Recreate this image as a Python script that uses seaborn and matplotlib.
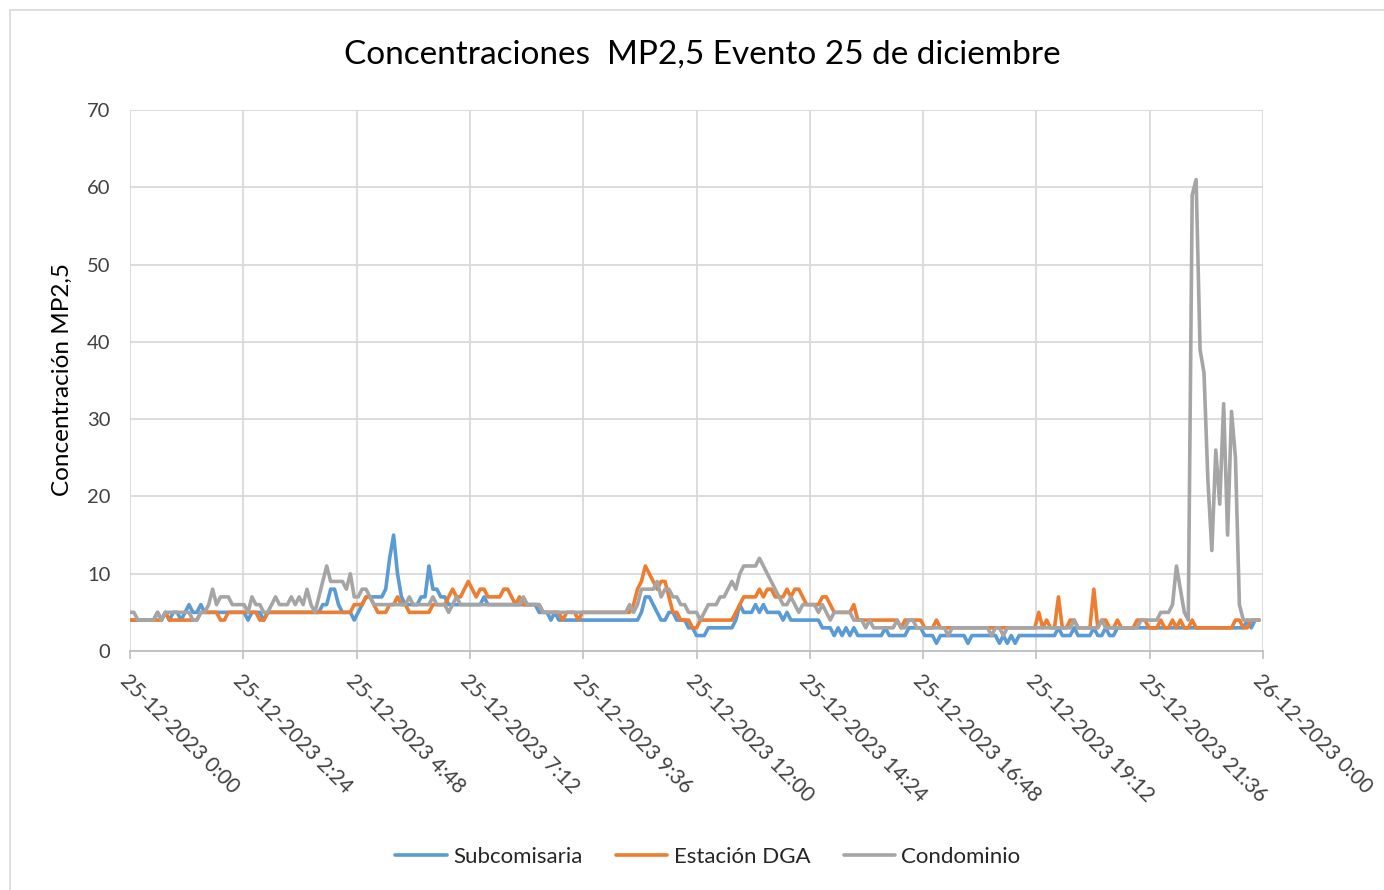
import numpy as np
import pandas as pd
import matplotlib
matplotlib.use('Agg')
import matplotlib.pyplot as plt
import seaborn as sns

# Concentraciones MP2,5 cada 5 minutos (una fila = una hora, 12 valores)
subcomisaria = [
    4, 4, 4, 4, 4, 4, 4, 5, 4, 5, 4, 5,
    5, 4, 5, 6, 5, 5, 6, 5, 5, 5, 5, 5,
    5, 5, 5, 5, 5, 5, 4, 5, 5, 5, 4, 5,
    5, 5, 5, 5, 5, 5, 5, 5, 5, 5, 5, 5,
    5, 6, 6, 8, 8, 6, 5, 5, 5, 4, 5, 6,
    7, 7, 7, 7, 7, 8, 12, 15, 10, 7, 6, 6,
    6, 6, 7, 7, 11, 8, 8, 7, 7, 6, 6, 6,
    6, 6, 6, 6, 6, 6, 7, 6, 6, 6, 6, 6,
    6, 6, 6, 6, 6, 6, 6, 6, 5, 5, 5, 4,
    5, 4, 4, 4, 4, 4, 4, 4, 4, 4, 4, 4,
    4, 4, 4, 4, 4, 4, 4, 4, 4, 4, 5, 7,
    7, 6, 5, 4, 4, 5, 5, 4, 4, 4, 3, 3,
    2, 2, 2, 3, 3, 3, 3, 3, 3, 3, 4, 6,
    5, 5, 5, 6, 5, 6, 5, 5, 5, 5, 4, 5,
    4, 4, 4, 4, 4, 4, 4, 4, 3, 3, 3, 2,
    3, 2, 3, 2, 3, 2, 2, 2, 2, 2, 2, 2,
    3, 2, 2, 2, 2, 2, 3, 3, 3, 3, 2, 2,
    2, 1, 2, 2, 2, 2, 2, 2, 2, 1, 2, 2,
    2, 2, 2, 2, 2, 1, 2, 1, 2, 1, 2, 2,
    2, 2, 2, 2, 2, 2, 2, 2, 3, 2, 2, 2,
    3, 2, 2, 2, 2, 3, 2, 2, 3, 2, 2, 3,
    3, 3, 3, 3, 3, 3, 3, 3, 3, 3, 3, 3,
    3, 3, 3, 3, 3, 3, 3, 3, 3, 3, 3, 3,
    3, 3, 3, 3, 3, 3, 3, 3, 4, 3, 4, 4,
]

estacion_dga = [
    4, 4, 4, 4, 4, 4, 4, 4, 4, 5, 4, 4,
    4, 4, 4, 4, 4, 4, 5, 5, 5, 5, 5, 4,
    4, 5, 5, 5, 5, 5, 5, 5, 5, 4, 4, 5,
    5, 5, 5, 5, 5, 5, 5, 5, 5, 5, 5, 5,
    5, 5, 5, 5, 5, 5, 5, 5, 5, 6, 6, 6,
    7, 7, 6, 5, 5, 5, 6, 6, 7, 6, 6, 5,
    5, 5, 5, 5, 5, 6, 6, 6, 6, 7, 8, 7,
    7, 8, 9, 8, 7, 8, 8, 7, 7, 7, 7, 8,
    8, 7, 6, 7, 6, 6, 6, 6, 6, 5, 5, 5,
    5, 5, 4, 5, 5, 5, 4, 5, 5, 5, 5, 5,
    5, 5, 5, 5, 5, 5, 5, 5, 6, 8, 9, 11,
    10, 9, 8, 9, 9, 7, 5, 5, 4, 4, 4, 3,
    3, 4, 4, 4, 4, 4, 4, 4, 4, 4, 5, 6,
    7, 7, 7, 7, 8, 7, 8, 8, 7, 7, 7, 8,
    7, 8, 8, 7, 6, 6, 6, 6, 7, 7, 6, 5,
    5, 5, 5, 5, 6, 4, 4, 4, 4, 4, 4, 4,
    4, 4, 4, 4, 3, 4, 4, 4, 4, 4, 3, 3,
    3, 4, 3, 3, 3, 3, 3, 3, 3, 3, 3, 3,
    3, 3, 3, 3, 3, 3, 3, 3, 3, 3, 3, 3,
    3, 3, 3, 5, 3, 4, 3, 3, 7, 3, 3, 4,
    4, 3, 3, 3, 3, 8, 3, 4, 4, 3, 3, 4,
    3, 3, 3, 3, 4, 4, 4, 3, 3, 3, 4, 3,
    3, 4, 3, 4, 3, 3, 4, 3, 3, 3, 3, 3,
    3, 3, 3, 3, 3, 4, 4, 3, 3, 4, 4, 4,
]

condominio = [
    5, 5, 4, 4, 4, 4, 4, 5, 4, 5, 5, 5,
    5, 5, 5, 5, 4, 4, 5, 5, 6, 8, 6, 7,
    7, 7, 6, 6, 6, 6, 5, 7, 6, 6, 5, 5,
    6, 7, 6, 6, 6, 7, 6, 7, 6, 8, 6, 5,
    7, 9, 11, 9, 9, 9, 9, 8, 10, 7, 7, 8,
    8, 7, 6, 6, 6, 6, 6, 6, 6, 6, 6, 7,
    6, 6, 6, 6, 6, 7, 6, 6, 6, 5, 6, 7,
    6, 6, 6, 6, 6, 6, 6, 6, 6, 6, 6, 6,
    6, 6, 6, 6, 7, 6, 6, 6, 6, 5, 5, 5,
    5, 5, 5, 5, 5, 5, 5, 5, 5, 5, 5, 5,
    5, 5, 5, 5, 5, 5, 5, 6, 5, 6, 8, 8,
    8, 8, 9, 7, 8, 8, 7, 7, 6, 6, 5, 5,
    5, 4, 5, 6, 6, 6, 7, 7, 8, 9, 8, 10,
    11, 11, 11, 11, 12, 11, 10, 9, 8, 7, 6, 6,
    7, 6, 5, 6, 6, 6, 6, 5, 6, 5, 4, 5,
    5, 5, 5, 5, 4, 4, 4, 3, 4, 3, 3, 3,
    3, 3, 3, 4, 3, 3, 4, 4, 3, 3, 3, 3,
    3, 3, 3, 3, 2, 3, 3, 3, 3, 3, 3, 3,
    3, 3, 3, 2, 3, 3, 2, 3, 3, 3, 3, 3,
    3, 3, 3, 3, 3, 3, 3, 3, 3, 3, 3, 3,
    4, 3, 3, 3, 3, 3, 3, 4, 3, 3, 3, 3,
    3, 3, 3, 3, 3, 4, 4, 4, 4, 4, 5, 5,
    5, 6, 11, 8, 5, 4, 59, 61, 39, 36, 22, 13,
    26, 19, 32, 15, 31, 25, 6, 4, 4, 4, 4, 4,
]

series = ['Subcomisaria', 'Estación DGA', 'Condominio']
colores = ['#5B9BD5', '#ED7D31', '#A5A5A5']
etiquetas_x = ['25-12-2023 0:00', '25-12-2023 2:24', '25-12-2023 4:48',
               '25-12-2023 7:12', '25-12-2023 9:36', '25-12-2023 12:00',
               '25-12-2023 14:24', '25-12-2023 16:48', '25-12-2023 19:12',
               '25-12-2023 21:36', '26-12-2023 0:00']

# Tabla larga para seaborn
tiempo = pd.date_range('2023-12-25 00:00', periods=len(condominio), freq='5min')
df = pd.DataFrame({
    'Fecha': np.tile(tiempo, 3),
    'Concentración': subcomisaria + estacion_dga + condominio,
    'Estación': np.repeat(series, len(tiempo)),
})

sns.set_style('white')
plt.rcParams['font.family'] = ['Lato', 'DejaVu Sans']

fig = plt.figure(figsize=(13.84, 8.90), dpi=100)
ax = fig.add_axes([130 / 1384, 1 - 651 / 890, 1133 / 1384, 541 / 890])

sns.lineplot(data=df, x='Fecha', y='Concentración', hue='Estación',
             hue_order=series, palette=colores, linewidth=2.6, ax=ax)

inicio = pd.Timestamp('2023-12-25 00:00')
fin = pd.Timestamp('2023-12-26 00:00')
ax.set_xlim(inicio, fin)
ax.set_ylim(0, 70)
ax.set_yticks(range(0, 71, 10))
ax.set_xticks(pd.date_range(inicio, fin, periods=len(etiquetas_x)))
ax.set_xticklabels(etiquetas_x, rotation=-45, ha='left', va='top',
                   rotation_mode='anchor', fontsize=15, color='#404040')
ax.tick_params(axis='y', labelsize=14.5, labelcolor='#404040', length=0, pad=14)
ax.tick_params(axis='x', length=6, width=1.2, color='#BFBFBF', pad=8,
               direction='out', bottom=True)
ax.grid(True, color='#D9D9D9', linewidth=1.3)
for lado in ['top', 'right', 'left']:
    ax.spines[lado].set_visible(False)
ax.spines['bottom'].set_color('#BFBFBF')
ax.spines['bottom'].set_linewidth(1.3)
ax.set_xlabel('')
ax.set_ylabel('')

fig.text(62 / 1384, 1 - 380 / 890, 'Concentración MP2,5', rotation=90,
         ha='center', va='center', fontsize=17.5, color='black')
fig.text(702 / 1384, 1 - 55 / 890, 'Concentraciones  MP2,5 Evento 25 de diciembre',
         ha='center', va='center', fontsize=24, color='black')

handles, labels = ax.get_legend_handles_labels()
ax.get_legend().remove()
fig.legend(handles, labels, loc='center', bbox_to_anchor=(708 / 1384, 1 - 857 / 890),
           ncol=3, frameon=False, fontsize=16, handlelength=2.3,
           columnspacing=1.5, handletextpad=0.3)

# Borde del área del gráfico
borde = plt.Rectangle((10 / 1384, -0.01), 1.02, 1 - 10 / 890 + 0.01,
                      transform=fig.transFigure, fill=False,
                      edgecolor='#D9D9D9', linewidth=1.2)
fig.patches.append(borde)

fig.savefig('out.png', dpi=100)
